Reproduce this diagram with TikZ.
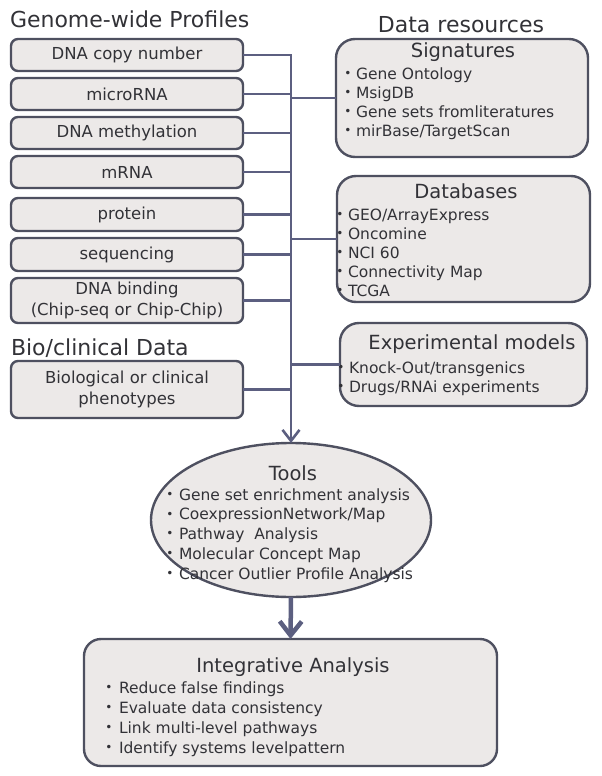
\documentclass[tikz,border=0pt]{standalone}
\usepackage{fontspec}
\setmainfont{DejaVu Sans}
\usetikzlibrary{arrows.meta,shapes.geometric}
\definecolor{linec}{RGB}{92,95,128}
\definecolor{edgec}{RGB}{78,80,96}
\definecolor{fillc}{RGB}{236,233,232}
\definecolor{textc}{RGB}{50,50,55}
\begin{document}
\begin{tikzpicture}[x=1pt,y=-1pt,
  every node/.style={inner sep=0pt, outer sep=0pt, text=textc},
  lbox/.style={draw=edgec, fill=fillc, line width=2.4pt, rounded corners=7pt, minimum width=232pt, anchor=north west, font=\fontsize{16.5}{21.5}\selectfont, align=center},
  rbox/.style={draw=edgec, fill=fillc, line width=2.4pt, rounded corners=19pt, anchor=north west},
  conn/.style={draw=linec, line width=2.6pt},
  head/.style={font=\fontsize{22}{26}\selectfont, anchor=base west},
  sub/.style={font=\fontsize{19.5}{23}\selectfont, anchor=base},
  item/.style={font=\fontsize{15.5}{19}\selectfont, anchor=base west},
  dot/.style={font=\fontsize{12}{14}\selectfont, anchor=base, yshift=1.6pt},
]
\useasboundingbox (0,0) rectangle (602,776);

% headings
\node[head] (hgen) at (10,28) {Genome-wide Profiles};
\node[head, anchor=base] (hres) at (461,33) {Data resources};
\node[head] (hbio) at (11,355) {Bio/clinical Data};

% left boxes
\node[lbox, minimum height=32pt] (g1) at (11,39) {DNA copy number};
\node[lbox, minimum height=32pt] (g2) at (11,78) {microRNA};
\node[lbox, minimum height=32pt] (g3) at (11,117) {DNA methylation};
\node[lbox, minimum height=32pt] (g4) at (11,156) {mRNA};
\node[lbox, minimum height=33pt] (g5) at (11,198) {protein};
\node[lbox, minimum height=33pt] (g6) at (11,238) {sequencing};
\node[lbox, minimum height=45pt] (g7) at (11,278) {DNA binding\\(Chip-seq or Chip-Chip)};
\node[lbox, minimum height=57pt] (g8) at (11,361) {Biological or clinical\\phenotypes};

% right boxes
\node[rbox, minimum width=252pt, minimum height=118pt] (sig) at (336,39) {};
\node[sub] (sigt) at (463,58) {Signatures};
\foreach \t [count=\i from 0] in {Gene Ontology, MsigDB, Gene sets fromliteratures, mirBase/TargetScan}{
  \node[dot] (sigd\i) at (348,79.5+19*\i) {•};
  \node[item] (sigi\i) at (356,79.5+19*\i) {\t};
}

\node[rbox, minimum width=253pt, minimum height=126pt] (db) at (337,176) {};
\node[sub] (dbt) at (466,198) {Databases};
\foreach \t [count=\i from 0] in {GEO/ArrayExpress, Oncomine, NCI 60, Connectivity Map, TCGA}{
  \node[dot] (dbd\i) at (340,220+19*\i) {•};
  \node[item] (dbi\i) at (348,220+19*\i) {\t};
}

\node[rbox, minimum width=247pt, minimum height=83pt] (exp) at (340,323) {};
\node[sub] (expt) at (472,349) {Experimental models};
\foreach \t [count=\i from 0] in {Knock-Out/transgenics, Drugs/RNAi experiments}{
  \node[dot] (expd\i) at (341,373+19.5*\i) {•};
  \node[item] (expi\i) at (349,373+19.5*\i) {\t};
}

% tools ellipse
\node[ellipse, draw=edgec, fill=fillc, line width=2.4pt, minimum width=280pt, minimum height=154pt] (tools) at (291,520) {};
\node[sub] (toolst) at (293,480) {Tools};
\foreach \t [count=\i from 0] in {Gene set enrichment analysis, CoexpressionNetwork/Map, Pathway~ Analysis, Molecular Concept Map, Cancer Outlier Profile Analysis}{
  \node[dot] (told\i) at (170,500+19.75*\i) {•};
  \node[item] (toli\i) at (179,500+19.75*\i) {\t};
}

% integrative box
\node[rbox, rounded corners=17pt, minimum width=413pt, minimum height=127pt] (integ) at (84,639) {};
\node[sub] (integt) at (293,672) {Integrative Analysis};
\foreach \t [count=\i from 0] in {Reduce false findings, Evaluate data consistency, Link multi-level pathways, Identify systems levelpattern}{
  \node[dot] (intd\i) at (109,693+20*\i) {•};
  \node[item] (inti\i) at (119,693+20*\i) {\t};
}

% connectors
\coordinate (trunk) at (tools.north |- g1.east);
\draw[conn, -{Straight Barb[length=11pt,width=17pt]}] (g1.east) -- (trunk) -- (tools.north);
\foreach \n in {g2,g3,g4,g5,g6,g7,g8}{
  \draw[conn] (\n.east) -- (\n.east -| trunk);
}
\foreach \n in {sig,db,exp}{
  \draw[conn] (\n.west -| trunk) -- (\n.west);
}
\draw[conn, line width=4.5pt, -{Straight Barb[length=14pt,width=22pt]}] (tools.south) -- (integ.north);
\end{tikzpicture}
\end{document}
